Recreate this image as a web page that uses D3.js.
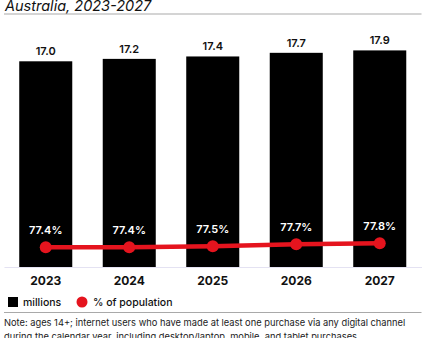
<!DOCTYPE html>
<html>
<head>
<meta charset="utf-8">
<script src="https://cdn.jsdelivr.net/npm/d3@7"></script>
<style>
  body { margin: 0; background: #fff; }
  svg { display: block; font-family: Inter, "Noto Sans", sans-serif; }
</style>
</head>
<body>
<svg id="chart" width="426" height="338"></svg>
<script>
const years = ["2023", "2024", "2025", "2026", "2027"];
const buyers = [17.0, 17.2, 17.4, 17.7, 17.9];
const popShare = [77.4, 77.4, 77.5, 77.7, 77.8];
const title = "Australia, 2023-2027";
const noteLines = [
  "Note: ages 14+; internet users who have made at least one purchase via any digital channel",
  "during the calendar year, including desktop/laptop, mobile, and tablet purchases"
];

const svg = d3.select("#chart");
const LEFT = 4, RIGHT = 421.5, BASE = 267;

/* Scales */
const x = d3.scaleBand()
  .domain(years)
  .range([LEFT, RIGHT])
  .paddingInner(0.365)
  .paddingOuter(0.1825);

const y = d3.scaleLinear().domain([0, 20]).range([BASE, BASE - 242]);
const yPct = d3.scaleLinear().domain([70, 80]).range([321.3, 221.3]);

/* Title */
svg.append("text")
  .attr("x", 5).attr("y", 10.5)
  .attr("font-size", 14.5)
  .attr("font-style", "italic")
  .attr("fill", "#111")
  .text(title);

svg.append("line")
  .attr("x1", LEFT).attr("x2", RIGHT)
  .attr("y1", 14).attr("y2", 14)
  .attr("stroke", "#a9a9a9").attr("stroke-width", 1.2);

/* Bars */
svg.append("g")
  .selectAll("rect")
  .data(buyers).enter()
  .append("rect")
  .attr("x", (d, i) => x(years[i]))
  .attr("y", d => y(d))
  .attr("width", x.bandwidth())
  .attr("height", d => BASE - y(d))
  .attr("fill", "#000");

svg.append("g")
  .selectAll("text")
  .data(buyers).enter()
  .append("text")
  .attr("x", (d, i) => x(years[i]) + x.bandwidth() / 2)
  .attr("y", d => y(d) - 6)
  .attr("text-anchor", "middle")
  .attr("font-size", 11)
  .attr("font-weight", 600)
  .attr("fill", "#111")
  .text(d => d.toFixed(1));

/* Axis */
const xAxis = d3.axisBottom(x).tickSize(0).tickPadding(9);
const ax = svg.append("g")
  .attr("transform", `translate(0, ${BASE})`)
  .call(xAxis);
ax.select(".domain").attr("stroke", "#e4e2f2").attr("stroke-width", 1.2);
ax.selectAll("text")
  .attr("font-size", 12)
  .attr("font-weight", 700)
  .attr("font-family", "Inter, 'Noto Sans', sans-serif")
  .attr("fill", "#111");

/* Line */
const line = d3.line()
  .x((d, i) => x(years[i]) + x.bandwidth() / 2)
  .y(d => yPct(d));

svg.append("path")
  .datum(popShare)
  .attr("d", line)
  .attr("fill", "none")
  .attr("stroke", "#e5141e")
  .attr("stroke-width", 4.5);

svg.append("g")
  .selectAll("circle")
  .data(popShare).enter()
  .append("circle")
  .attr("cx", (d, i) => x(years[i]) + x.bandwidth() / 2)
  .attr("cy", d => yPct(d))
  .attr("r", 6)
  .attr("fill", "#e5141e");

svg.append("g")
  .selectAll("text")
  .data(popShare).enter()
  .append("text")
  .attr("x", (d, i) => x(years[i]) + x.bandwidth() / 2)
  .attr("y", d => yPct(d) - 13)
  .attr("text-anchor", "middle")
  .attr("font-size", 11)
  .attr("font-weight", 600)
  .attr("fill", "#fff")
  .text(d => d.toFixed(1) + "%");

/* Legend */
const leg = svg.append("g").attr("transform", "translate(0, 302)");
leg.append("rect").attr("x", 8).attr("y", -5).attr("width", 10).attr("height", 10).attr("fill", "#000");
leg.append("text").attr("x", 23).attr("y", 4).attr("font-size", 10.5).attr("font-weight", 500)
  .attr("fill", "#111").text("millions");
leg.append("circle").attr("cx", 82).attr("cy", 0).attr("r", 5.5).attr("fill", "#e5141e");
leg.append("text").attr("x", 93).attr("y", 4).attr("font-size", 10.5).attr("font-weight", 500)
  .attr("fill", "#111").text("% of population");

svg.append("line")
  .attr("x1", LEFT).attr("x2", RIGHT)
  .attr("y1", 312.5).attr("y2", 312.5)
  .attr("stroke", "#a9a9a9").attr("stroke-width", 1.2);

/* Note */
svg.append("g")
  .selectAll("text")
  .data(noteLines).enter()
  .append("text")
  .attr("x", 4)
  .attr("y", (d, i) => 326 + i * 13.5)
  .attr("font-size", 9.3)
  .attr("fill", "#222")
  .text(d => d);
</script>
</body>
</html>
